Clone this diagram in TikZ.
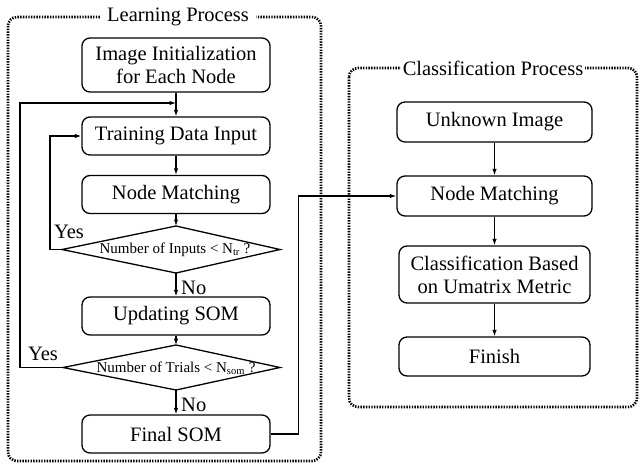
\documentclass[tikz,border=0pt]{standalone}
\usepackage{fontspec}
\setmainfont{Liberation Serif}
\usetikzlibrary{arrows.meta}
\tikzset{
  box/.style={draw, rounded corners=8pt, line width=1.3pt, minimum width=188pt,
    minimum height=38pt, align=center, inner sep=0pt, font=\fontsize{20.5}{23}\selectfont},
  rbox/.style={box, minimum width=195pt},
  arr/.style={line width=1.1pt, -{Latex[length=6.5pt,width=4.5pt]}},
  dotbox/.style={line width=2.6pt, dash pattern=on 1.4pt off 1.3pt, rounded corners=9pt},
  ttl/.style={fill=white, inner sep=0pt, font=\fontsize{20.5}{23}\selectfont},
  lbl/.style={inner sep=0pt, font=\fontsize{20.5}{23}\selectfont},
  dtext/.style={inner sep=0pt, font=\fontsize{15}{18}\selectfont},
  dia/.style={line width=1.3pt, line join=miter}
}
\begin{document}
\begin{tikzpicture}[x=1pt,y=-1pt]
\useasboundingbox (0,0) rectangle (639,464);
% dotted frames
\draw[dotbox] (8,17) rectangle (321,461);
\node[ttl, inner xsep=7pt] (lt) at (178,17) {Learning Process};
\draw[dotbox] (349,68) rectangle (637,407);
\node[ttl, inner xsep=2pt] (ct) at (493,68) {Classification Process};

% learning column
\node[box, minimum height=54pt] (init) at (176,65) {Image Initialization\\for Each Node};
\node[box] (train) at (176,136) {Training Data Input};
\node[box] (nm) at (176,194.5) {Node Matching};
\coordinate (d1n) at (176,226);
\coordinate (d1s) at (176,273);
\coordinate (d1w) at (62,249.5);
\coordinate (d1e) at (280,249.5);
\draw[dia] (d1n) -- (d1e) -- (d1s) -- (d1w) -- cycle;
\node[dtext] (d1) at (175,250) {Number of Inputs < N\textsubscript{tr} ?};
\node[box] (upd) at (176,316) {Updating SOM};
\coordinate (d2n) at (176,345);
\coordinate (d2s) at (176,390);
\coordinate (d2w) at (63,367.5);
\coordinate (d2e) at (280,367.5);
\draw[dia] (d2n) -- (d2e) -- (d2s) -- (d2w) -- cycle;
\node[dtext] (d2) at (176,368) {Number of Trials < N\textsubscript{som} ?};
\node[box] (fin) at (176,434) {Final SOM};
\coordinate (j) at (176,103);

\draw[arr] (init) -- (train);
\draw[arr] (train) -- (nm);
\draw[arr] (nm) -- (d1n);
\draw[arr] (d1s) -- (upd);
\draw[arr] (upd) -- (d2n);
\draw[arr] (d2s) -- (fin);
\draw[arr] (d1w) -- ++(-12,0) |- (train.west);
\draw[arr] (d2w) -- ++(-43,0) |- (j);
\node[lbl] (y1) at (69,232) {Yes};
\node[lbl] (y2) at (43,354) {Yes};
\node[lbl, anchor=west] (n1) at (181,288) {No};
\node[lbl, anchor=west] (n2) at (181,405) {No};

% classification column
\node[rbox, minimum height=40pt] (unk) at (494.5,122) {Unknown Image};
\node[rbox, minimum height=40pt] (cnm) at (494.5,196) {Node Matching};
\node[rbox, minimum height=57pt, minimum width=191pt] (cls) at (494.5,274.5) {Classification Based\\on Umatrix Metric};
\node[rbox, minimum height=39pt, minimum width=191pt] (fsh) at (494.5,356.5) {Finish};
\draw[arr] (unk) -- (cnm);
\draw[arr] (cnm) -- (cls);
\draw[arr] (cls) -- (fsh);
\draw[arr] (fin.east) -- ++(28,0) |- (cnm.west);
\end{tikzpicture}
\end{document}
